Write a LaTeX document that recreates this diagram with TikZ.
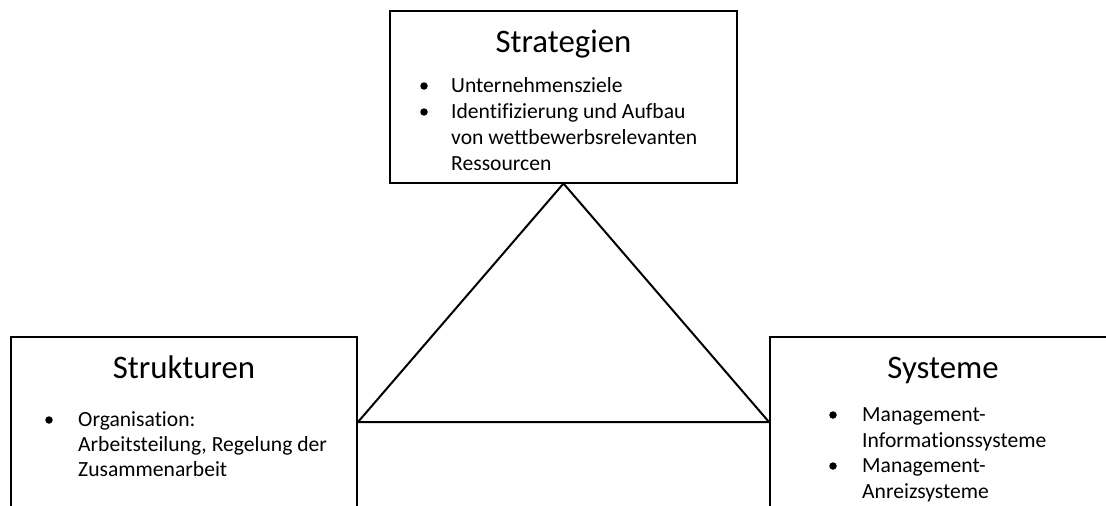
\documentclass[tikz,border=0pt]{standalone}
\usepackage{fontspec}
\setmainfont{Carlito}[RawFeature={-liga;-clig}]
\usetikzlibrary{calc}
\tikzset{
  panel/.style={draw, line width=2pt, rectangle, inner sep=0pt},
  headline/.style={anchor=base, inner sep=0pt, font=\fontsize{32.8}{39}\selectfont},
  itemline/.style={anchor=base west, inner sep=0pt, font=\fontsize{21.6}{26}\selectfont},
  dot/.style={circle, fill=black, inner sep=0pt, minimum size=7.5pt},
  edge/.style={line width=2pt}
}
\begin{document}
\begin{tikzpicture}[x=1pt, y=-1pt]
\useasboundingbox (0,0) rectangle (1106,506);
\clip (0,0) rectangle (1106,506);

% three boxes
\node[panel, minimum width=347pt, minimum height=172pt] (strat) at (563.5,96.5) {};
\node[panel, minimum width=346pt, minimum height=240pt] (struk) at (184,457) {};
\node[panel, minimum width=346pt, minimum height=240pt] (sys) at (943,457) {};

% corners of the triangle
\coordinate (apex) at (strat.south);
\coordinate (lv) at ($(struk.north east)+(0,86)$);
\coordinate (rv) at ($(sys.north west)+(0,86)$);
\draw[edge, line join=miter] (apex) -- (lv) -- (rv) -- cycle;

% Strategien
\node[headline] (t1) at (563.5,52) {Strategien};
\node[dot] (b11) at (424,86) {};
\node[itemline] (s1) at (451,92) {Unternehmensziele};
\node[dot] (b12) at (424,112) {};
\node[itemline] (s2) at (451,118) {Identifizierung und Aufbau};
\node[itemline] (s3) at (451,144) {von wettbewerbsrelevanten};
\node[itemline] (s4) at (451,170) {Ressourcen};

% Strukturen
\node[headline] (t2) at (184,378) {Strukturen};
\node[dot] (b21) at (49,420) {};
\node[itemline] (k1) at (78,426) {Organisation:};
\node[itemline] (k2) at (78,451) {Arbeitsteilung, Regelung der};
\node[itemline] (k3) at (78,476) {Zusammenarbeit};

% Systeme
\node[headline] (t3) at (943,378) {Systeme};
\node[dot] (b31) at (833,415) {};
\node[itemline] (y1) at (862,421) {Management-};
\node[itemline] (y2) at (862,447) {Informationssysteme};
\node[dot] (b32) at (833,466) {};
\node[itemline] (y3) at (862,472) {Management-};
\node[itemline] (y4) at (862,498) {Anreizsysteme};
\end{tikzpicture}
\end{document}
